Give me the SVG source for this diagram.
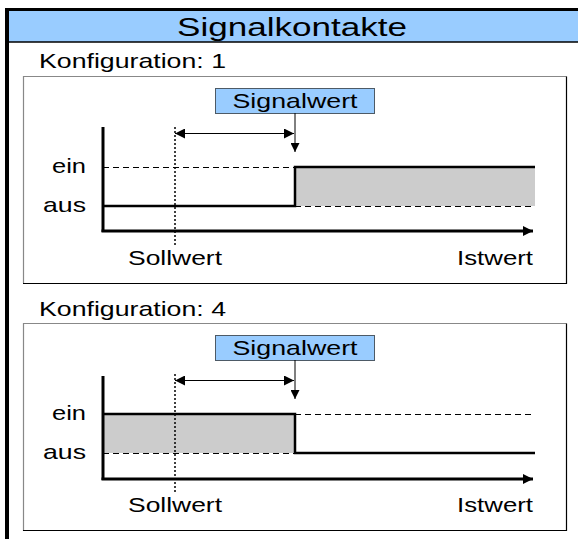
<svg xmlns="http://www.w3.org/2000/svg" width="578" height="539" viewBox="0 0 578 539">
<style>
text{font-family:"Liberation Sans",Arial,sans-serif;fill:#000}
.lbl{font-size:21px}
.ax{stroke:#000;stroke-width:3;fill:none}
.sol{stroke:#000;stroke-width:2.5;fill:none}
.dash{stroke:#000;stroke-width:1;stroke-dasharray:6,4;fill:none}
.dot{stroke:#000;stroke-width:1.5;stroke-dasharray:2,2;fill:none}
.thin{stroke:#000;stroke-width:1;fill:none}
.fillg{fill:#cccccc;stroke:none}
.sw{fill:#99ccff;stroke:#4d5a66;stroke-width:1}
</style>
<defs>
<marker id="ah" viewBox="0 0 10 10" refX="10" refY="5" markerWidth="18" markerHeight="10" markerUnits="userSpaceOnUse" orient="auto-start-reverse"><path d="M0,0L10,5L0,10z" fill="#000"/></marker>
<marker id="ahs" viewBox="0 0 10 10" refX="10" refY="5" markerWidth="11" markerHeight="9" markerUnits="userSpaceOnUse" orient="auto"><path d="M0,0L10,5L0,10z" fill="#000"/></marker>
</defs>
<rect width="578" height="539" fill="#fff"/>
<g id="frame">
<rect x="7" y="10" width="571" height="32" fill="#99ccff"/>
<line x1="5" y1="9.5" x2="578" y2="9.5" stroke="#000" stroke-width="3"/>
<line x1="7" y1="42" x2="578" y2="42" stroke="#000" stroke-width="1.5"/>
<line x1="7" y1="8" x2="7" y2="539" stroke="#000" stroke-width="4"/>
<text x="292" y="36" font-size="25" text-anchor="middle" textLength="230" lengthAdjust="spacingAndGlyphs">Signalkontakte</text>
</g>
<g id="config1">
<text class="lbl" x="39" y="68" textLength="187" lengthAdjust="spacingAndGlyphs">Konfiguration: 1</text>
<path d="M23.5,283V76.5H566.5" stroke="#888" stroke-width="1.2" fill="none"/>
<path d="M566.5,76.5V283.5H23" stroke="#000" stroke-width="1.2" fill="none"/>
<rect class="fillg" x="295" y="167" width="240" height="39"/>
<g id="c1-signalwert">
<rect class="sw" x="215.5" y="88.5" width="159" height="25"/>
<text class="lbl" x="295" y="108" text-anchor="middle" textLength="125" lengthAdjust="spacingAndGlyphs">Signalwert</text>
</g>
<g id="c1-connectors">
<line class="thin" x1="295" y1="113" x2="295" y2="152" marker-end="url(#ahs)" stroke-width="1.5"/>
<line class="thin" x1="175" y1="133.5" x2="294" y2="133.5" marker-start="url(#ah)" marker-end="url(#ah)"/>
<line class="dot" x1="175" y1="127" x2="175" y2="245"/>
<line class="dash" x1="103" y1="167.5" x2="295" y2="167.5"/>
<line class="dash" x1="295" y1="206.5" x2="535" y2="206.5"/>
<path class="sol" d="M103,206H295V167H535"/>
<line class="ax" x1="103" y1="127" x2="103" y2="232"/>
<line class="ax" x1="101.5" y1="231" x2="533" y2="231" marker-end="url(#ah)"/>
</g>
<text class="lbl" x="86" y="173" text-anchor="end" textLength="34" lengthAdjust="spacingAndGlyphs">ein</text>
<text class="lbl" x="86" y="212" text-anchor="end" textLength="43" lengthAdjust="spacingAndGlyphs">aus</text>
<text class="lbl" x="175" y="265" text-anchor="middle" textLength="94" lengthAdjust="spacingAndGlyphs">Sollwert</text>
<text class="lbl" x="533" y="265" text-anchor="end" textLength="76" lengthAdjust="spacingAndGlyphs">Istwert</text>
</g>
<g id="config4">
<text class="lbl" x="39" y="316" textLength="187" lengthAdjust="spacingAndGlyphs">Konfiguration: 4</text>
<path d="M23.5,531V323.5H566.5" stroke="#888" stroke-width="1.2" fill="none"/>
<path d="M566.5,323.5V530.5H23" stroke="#000" stroke-width="1.2" fill="none"/>
<rect class="fillg" x="103" y="414" width="192" height="39"/>
<g id="c4-signalwert">
<rect class="sw" x="215.5" y="335.5" width="159" height="25"/>
<text class="lbl" x="295" y="355" text-anchor="middle" textLength="125" lengthAdjust="spacingAndGlyphs">Signalwert</text>
</g>
<g id="c4-connectors">
<line class="thin" x1="295" y1="360" x2="295" y2="399" marker-end="url(#ahs)" stroke-width="1.5"/>
<line class="thin" x1="175" y1="380.5" x2="294" y2="380.5" marker-start="url(#ah)" marker-end="url(#ah)"/>
<line class="dot" x1="175" y1="374" x2="175" y2="492"/>
<line class="dash" x1="295" y1="414.5" x2="535" y2="414.5"/>
<line class="dash" x1="103" y1="453.5" x2="295" y2="453.5"/>
<path class="sol" d="M103,414H295V453H535"/>
<line class="ax" x1="103" y1="376" x2="103" y2="480"/>
<line class="ax" x1="101.5" y1="479" x2="533" y2="479" marker-end="url(#ah)"/>
</g>
<text class="lbl" x="86" y="420" text-anchor="end" textLength="34" lengthAdjust="spacingAndGlyphs">ein</text>
<text class="lbl" x="86" y="459" text-anchor="end" textLength="43" lengthAdjust="spacingAndGlyphs">aus</text>
<text class="lbl" x="175" y="512" text-anchor="middle" textLength="94" lengthAdjust="spacingAndGlyphs">Sollwert</text>
<text class="lbl" x="533" y="512" text-anchor="end" textLength="76" lengthAdjust="spacingAndGlyphs">Istwert</text>
</g>
</svg>
